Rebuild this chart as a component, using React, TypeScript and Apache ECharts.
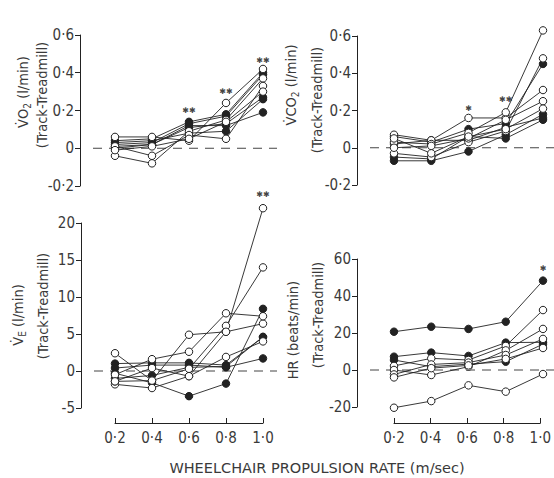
import React, { useEffect, useRef } from 'react';
import * as echarts from 'echarts';

// ---------- data ----------
const xValues = [0.2, 0.4, 0.6, 0.8, 1.0];
const xTickLabels = ['0·2', '0·4', '0·6', '0·8', '1·0'];

// VO2 (l/min), Track - Treadmill
const vo2Open = [
  [0.06, 0.06, 0.04, 0.24, 0.42],
  [-0.04, -0.08, 0.09, 0.15, 0.37],
  [0.01, -0.04, 0.07, 0.05, 0.33],
  [-0.01, 0.01, 0.05, 0.14, 0.30],
];
const vo2Filled = [
  [0.04, 0.05, 0.14, 0.18, 0.40],
  [0.02, 0.03, 0.13, 0.17, 0.39],
  [0.01, 0.02, 0.11, 0.13, 0.27],
  [0.03, 0.04, 0.08, 0.09, 0.26],
  [0.00, 0.02, 0.12, 0.12, 0.19],
];
const vo2Sig = [[0.6, 0.2, '✱✱'], [0.8, 0.3, '✱✱'], [1.0, 0.465, '✱✱']];

// VCO2 (l/min)
const vco2Open = [
  [0.07, 0.04, 0.16, 0.16, 0.31],
  [0.03, 0.02, 0.08, 0.19, 0.63],
  [-0.03, -0.05, 0.03, 0.09, 0.48],
  [0.00, 0.01, 0.05, 0.15, 0.25],
  [0.05, -0.03, 0.06, 0.10, 0.21],
];
const vco2Filled = [
  [0.06, 0.03, 0.10, 0.13, 0.45],
  [-0.07, -0.07, -0.02, 0.07, 0.18],
  [0.02, 0.04, 0.04, 0.11, 0.16],
  [-0.05, -0.06, 0.06, 0.05, 0.15],
];
const vco2Sig = [[0.6, 0.21, '✱'], [0.8, 0.26, '✱✱']];

// VE (l/min)
const veOpen = [
  [-1.8, -2.3, -0.7, 5.3, 22.0],
  [-1.4, -1.3, 0.3, 6.1, 14.0],
  [2.4, -1.3, 4.9, 5.3, 6.4],
  [-0.5, 1.6, 2.6, 7.8, 7.4],
  [-1.4, 0.4, -0.7, 1.9, 4.0],
];
const veFilled = [
  [1.0, 1.1, 1.1, 0.8, 4.6],
  [0.4, 0.8, 0.8, 0.5, 1.7],
  [-0.3, -1.6, -3.4, -1.7, 8.4],
  [-1.0, -0.6, 0.5, 0.6, 4.6],
];
const veSig = [[1.0, 23.9, '✱✱']];

// HR (beats/min)
const hrOpen = [
  [-20.4, -16.8, -8.3, -11.7, -2.2],
  [2.2, 6.3, 5.4, 13.0, 32.4],
  [0.0, -2.7, 1.8, 10.6, 22.2],
  [-2.4, 3.0, 4.0, 8.1, 16.8],
  [-4.0, 1.0, 2.5, 6.0, 11.9],
];
const hrFilled = [
  [20.7, 23.4, 22.2, 26.1, 48.3],
  [7.2, 9.4, 7.6, 14.8, 15.0],
  [5.4, 1.8, 3.2, 4.5, 14.0],
];
const hrSig = [[1.0, 55, '✱']];

const xAxisTitle = 'WHEELCHAIR PROPULSION RATE (m/sec)';

// ---------- layout ----------
const FONT = "'DejaVu Sans Condensed', 'Liberation Sans Narrow', 'DejaVu Sans', sans-serif";
const TXT = '#3a3a3a';
const INK = '#222';

type Panel = {
  open: number[][];
  filled: number[][];
  sig: (number | string)[][];
  yMin: number; yMax: number; yInt: number;
  fmt: (v: number) => string;
  axisX: number; right: number; top: number; bottom: number; x02: number; x10: number;
  showX: boolean;
};

const dec = (v: number) => (Math.abs(v) < 1e-9 ? '0' : v.toFixed(1).replace('.', '·'));
const int = (v: number) => String(Math.round(v));

const panels: Panel[] = [
  { open: vo2Open, filled: vo2Filled, sig: vo2Sig, yMin: -0.2, yMax: 0.6, yInt: 0.2, fmt: dec,
    axisX: 80, right: 277, top: 35, bottom: 186, x02: 115, x10: 263, showX: false },
  { open: vco2Open, filled: vco2Filled, sig: vco2Sig, yMin: -0.2, yMax: 0.6, yInt: 0.2, fmt: dec,
    axisX: 357, right: 554, top: 36, bottom: 185, x02: 394, x10: 543, showX: false },
  { open: veOpen, filled: veFilled, sig: veSig, yMin: -5, yMax: 20, yInt: 5, fmt: int,
    axisX: 81, right: 277, top: 223, bottom: 408, x02: 115, x10: 263, showX: true },
  { open: hrOpen, filled: hrFilled, sig: hrSig, yMin: -20, yMax: 60, yInt: 20, fmt: int,
    axisX: 357, right: 554, top: 259, bottom: 407, x02: 394, x10: 543, showX: true },
];

function buildOption() {
  const grid: any[] = [];
  const xAxis: any[] = [];
  const yAxis: any[] = [];
  const series: any[] = [];

  panels.forEach((p) => {
    const gi = grid.length;
    const ppu = (p.x10 - p.x02) / 0.8;
    const xMin = 0.2 - (p.x02 - p.axisX) / ppu;
    const xMax = 1.0 + (p.right - p.x10) / ppu;
    grid.push({ left: p.axisX, top: p.top, width: p.right - p.axisX, height: p.bottom - p.top });
    xAxis.push({ type: 'value', gridIndex: gi, min: xMin, max: xMax, show: false });
    yAxis.push({
      type: 'value', gridIndex: gi, min: p.yMin, max: p.yMax, interval: p.yInt,
      axisLine: { show: true, lineStyle: { color: INK, width: 1 } },
      axisTick: { show: true, inside: false, length: 5, lineStyle: { color: INK, width: 1 } },
      axisLabel: { formatter: p.fmt, fontFamily: FONT, fontSize: 15, color: TXT, margin: 6 },
      splitLine: { show: false },
    });
    // zero reference line
    const zx0 = 0.2 - (p.x02 - p.axisX - 13) / ppu;
    series.push({
      type: 'line', xAxisIndex: gi, yAxisIndex: gi, symbol: 'none', silent: true, z: 1,
      data: [[zx0, 0], [xMax, 0]],
      lineStyle: { color: '#444', width: 1, type: [9, 7] },
    });
    const addSeries = (rows: number[][], filled: boolean) => {
      rows.forEach((vals) => {
        series.push({
          type: 'line', xAxisIndex: gi, yAxisIndex: gi, clip: false, z: 3,
          data: xValues.map((x, j) => [x, vals[j]]),
          symbol: 'circle', symbolSize: 7.5, showAllSymbol: true,
          lineStyle: { color: INK, width: 0.9 },
          itemStyle: { color: filled ? INK : '#fff', borderColor: INK, borderWidth: 1 },
        });
      });
    };
    addSeries(p.filled, true);
    addSeries(p.open, false);
    series.push({
      type: 'scatter', xAxisIndex: gi, yAxisIndex: gi, clip: false, z: 4, silent: true,
      symbolSize: 0, itemStyle: { color: INK },
      data: p.sig.map((s) => [s[0], s[1], s[2]]),
      label: {
        show: true, position: 'inside', formatter: (q: any) => q.data[2],
        fontSize: 8, fontWeight: 'bold', color: '#111', textBorderWidth: 0, fontFamily: 'DejaVu Sans',
      },
    });

    if (p.showX) {
      const ai = grid.length;
      grid.push({ left: p.x02, width: p.x10 - p.x02, top: 422, height: 1 });
      xAxis.push({
        type: 'category', gridIndex: ai, data: xTickLabels, boundaryGap: false,
        axisLine: { show: true, lineStyle: { color: INK, width: 1 } },
        axisTick: { show: true, inside: true, length: 5, alignWithLabel: true, lineStyle: { color: INK } },
        axisLabel: { fontFamily: FONT, fontSize: 15, color: TXT, margin: 7, interval: 0 },
        splitLine: { show: false },
      });
      yAxis.push({ type: 'value', gridIndex: ai, show: false });
    }
  });

  const richA = { fontFamily: FONT, fontSize: 14.5, color: TXT, lineHeight: 20 };
  const richS = { fontFamily: FONT, fontSize: 10, color: TXT, lineHeight: 20, padding: [9, 0, 0, 0] };
  const vtext = (x: number, y: number, text: string) => ({
    type: 'text', x, y, rotation: Math.PI / 2,
    style: {
      text, rich: { a: richA, s: richS }, fill: TXT, font: `14.5px ${FONT}`,
      textAlign: 'center', textVerticalAlign: 'middle', align: 'center', verticalAlign: 'middle',
    },
  });

  const graphic = [
    vtext(23, 92, '{a|V̇O}{s|2}{a| (l/min)}'),
    vtext(42, 95, '{a|(Track-Treadmill)}'),
    vtext(291, 85, '{a|V̇CO}{s|2}{a| (l/min)}'),
    vtext(317, 100, '{a|(Track-Treadmill)}'),
    vtext(18, 315, '{a|V̇}{s|E}{a| (l/min)}'),
    vtext(43, 306, '{a|(Track-Treadmill)}'),
    vtext(293, 330, '{a|HR (beats/min)}'),
    vtext(318, 315, '{a|(Track-Treadmill)}'),
    {
      type: 'text', x: 317, y: 468,
      style: {
        text: xAxisTitle, fill: TXT, font: `14.5px 'DejaVu Sans', sans-serif`,
        textAlign: 'center', textVerticalAlign: 'middle', align: 'center', verticalAlign: 'middle',
      },
    },
  ];

  return { animation: false, backgroundColor: '#fff', grid, xAxis, yAxis, series, graphic };
}

export default function App() {
  const ref = useRef<HTMLDivElement>(null);
  useEffect(() => {
    if (!ref.current) return;
    const chart = echarts.init(ref.current, undefined, { renderer: 'svg' });
    chart.setOption(buildOption() as any);
    return () => chart.dispose();
  }, []);
  return (
    <div
      ref={ref}
      style={{ position: 'fixed', left: 0, top: 0, width: 554, height: 478, background: '#fff' }}
    />
  );
}
